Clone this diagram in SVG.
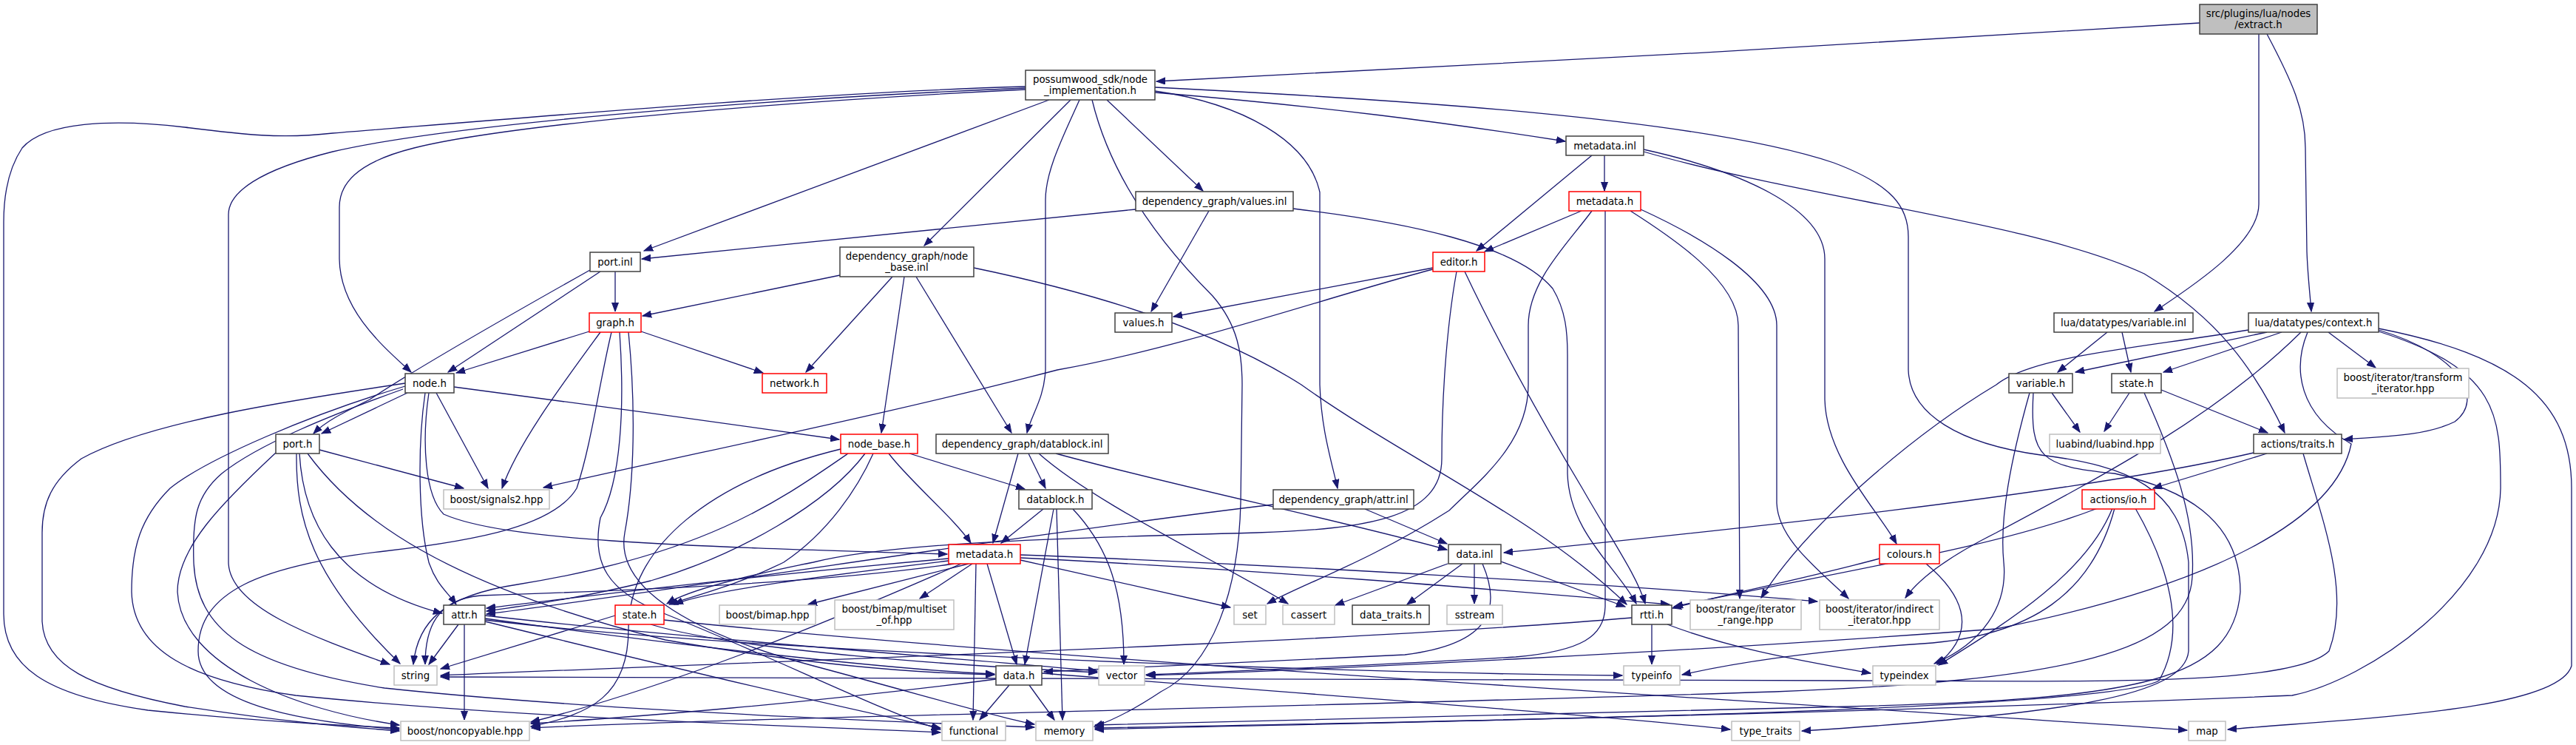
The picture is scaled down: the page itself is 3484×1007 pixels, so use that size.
<svg xmlns="http://www.w3.org/2000/svg" width="3484" height="1007" viewBox="0 0 3484 1007">
<style>
.e path{fill:none;stroke:#191970;stroke-width:1.3;marker-end:url(#a)}
.n rect{fill:#fff;stroke:#404040;stroke-width:1.5}
.n.x rect{stroke:#bfbfbf}
.n.r rect{stroke:#ff0000}
.n.s rect{fill:#bfbfbf}
text{font-family:"DejaVu Sans",sans-serif;font-size:13.33px;text-anchor:middle;fill:#000}
</style>
<defs>
<marker id="a" markerWidth="13" markerHeight="10" refX="12" refY="5" orient="auto" markerUnits="userSpaceOnUse"><path d="M0,0.5 L12,5 L0,9.5 z" fill="#191970" stroke="#191970" stroke-width="1"/></marker>
</defs>
<rect width="3484" height="1007" fill="#fff"/>
<g id="edges" class="e">
<path d="M2975,31 C2600,55 1900,95 1564,110"/>
<path d="M3055,46 L3055,276 C3055,330 2960,390 2914,421"/>
<path d="M3066,46 C3100,110 3118,150 3118,200 L3120,340 C3121,370 3124,395 3126,421"/>
<path d="M1419,135 L871,339"/>
<path d="M1387,121 C1100,135 700,165 560,200 C480,220 459,250 459,280 L459,350 C460,420 520,470 556,503"/>
<path d="M1387,117 C1100,125 700,160 450,180 C380,188 330,182 250,172 C150,160 60,165 30,200 C10,230 5,270 5,300 L5,830 C5,900 60,940 200,960 C350,975 450,980 540,984"/>
<path d="M1387,119 C1000,135 600,170 450,205 C350,230 309,260 309,290 L309,760 C310,820 420,860 527,898"/>
<path d="M1448,135 L1250,332"/>
<path d="M1460,135 C1440,180 1414,230 1414,270 L1414,500 C1412,540 1395,560 1389,585"/>
<path d="M1477,135 C1500,230 1560,320 1640,400 C1675,440 1680,480 1680,520 L1678,680 C1675,800 1640,900 1570,935 C1540,955 1510,972 1480,982"/>
<path d="M1497,135 L1627,258"/>
<path d="M1562,125 C1800,145 1950,165 2117,191"/>
<path d="M1562,123 C1680,140 1770,190 1785,260 L1785,520 C1787,580 1800,620 1809,660"/>
<path d="M1562,118 C1900,135 2300,160 2480,220 C2560,250 2581,280 2581,320 L2581,500 C2583,560 2650,600 2760,615 C2880,630 2950,660 2960,760 L2960,880 C2955,940 2800,965 2437,988"/>
<path d="M2170,210 L2170,258"/>
<path d="M2153,210 L1997,339"/>
<path d="M2223,202 C2350,230 2468,280 2468,350 L2468,540 C2470,620 2540,690 2565,735"/>
<path d="M2223,205 C2450,270 2750,300 2900,370 C3000,430 3050,500 3090,585"/>
<path d="M2139,285 L2008,340"/>
<path d="M2153,285 C2120,330 2067,380 2067,440 L2067,520 C2067,600 2000,650 1960,690 C1850,760 1760,790 1714,816"/>
<path d="M2171,285 L2171,820 C2170,860 2140,880 2050,888 C1850,900 1650,908 1550,912"/>
<path d="M2205,285 C2260,320 2351,380 2351,440 L2353,809"/>
<path d="M2219,283 C2300,320 2403,380 2403,440 L2403,680 C2405,730 2460,770 2500,809"/>
<path d="M1536,283 L868,350"/>
<path d="M1635,285 L1557,421"/>
<path d="M1749,282 C1900,300 2050,330 2100,390 C2118,420 2120,450 2120,480 L2120,640 C2122,720 2190,770 2213,816"/>
<path d="M1938,362 L1587,428"/>
<path d="M1938,364 C1800,400 1600,470 1430,500 C1200,560 950,610 735,659"/>
<path d="M1970,367 C1955,450 1950,550 1950,620 C1950,700 1850,715 1700,720 C1400,728 1200,735 1100,760 C1000,780 930,798 902,816"/>
<path d="M1981,367 C2020,450 2080,560 2140,660 C2180,730 2215,780 2225,816"/>
<path d="M832,367 L832,421"/>
<path d="M812,367 L606,503"/>
<path d="M798,365 C700,420 560,500 500,540 C460,560 440,570 424,586"/>
<path d="M1136,372 L869,427"/>
<path d="M1207,374 L1090,503"/>
<path d="M1223,374 L1192,585"/>
<path d="M1239,374 L1368,585"/>
<path d="M1317,362 C1500,400 1650,450 1760,520 C1900,620 2080,700 2200,817"/>
<path d="M797,448 L617,504"/>
<path d="M867,448 L1032,504"/>
<path d="M812,449 C760,520 700,600 679,660"/>
<path d="M827,449 C810,520 800,600 780,660 C750,710 650,730 520,745 C350,765 268,800 268,880 C268,950 400,975 540,986"/>
<path d="M838,449 C845,550 840,650 812,700 C800,760 820,800 900,830 C1050,890 1200,965 1272,986"/>
<path d="M850,449 C860,550 858,650 845,720 C830,800 950,860 1100,900 C1250,940 1350,970 1399,979"/>
<path d="M551,531 L435,586"/>
<path d="M575,531 C565,600 565,700 580,760 C590,790 605,800 617,817"/>
<path d="M590,531 L660,660"/>
<path d="M614,523 C750,540 1000,575 1135,594"/>
<path d="M580,531 C570,600 575,670 600,695 C680,730 900,738 1281,749"/>
<path d="M548,518 C400,540 200,570 110,620 C70,650 57,680 57,720 L57,840 C60,900 120,930 250,955 C380,975 460,982 540,988"/>
<path d="M548,522 C420,560 280,620 230,660 C190,700 178,740 178,800 C180,880 260,920 400,940 C700,970 1000,978 1272,990"/>
<path d="M545,526 C450,560 350,600 300,640 C265,670 260,700 262,760 C266,850 330,900 520,930 C800,960 1200,975 1399,983"/>
<path d="M401,613 C400,700 420,780 541,897"/>
<path d="M405,613 C410,700 450,790 598,829"/>
<path d="M432,608 L627,660"/>
<path d="M373,612 C300,680 240,740 240,800 C245,900 400,960 540,980"/>
<path d="M416,613 C480,700 600,790 900,865 C1100,900 1250,910 1345,912"/>
<path d="M1202,613 C1230,650 1290,700 1313,734"/>
<path d="M1230,613 L1386,661"/>
<path d="M1181,613 C1160,660 1120,720 1060,760 C1000,790 940,805 905,817"/>
<path d="M1170,613 C1120,680 1000,750 880,785 C780,810 700,820 658,826"/>
<path d="M1147,613 C1050,680 950,750 700,790 C600,805 565,840 559,898"/>
<path d="M1137,607 C960,650 850,740 850,850 C850,940 800,965 718,982"/>
<path d="M1377,613 L1343,734"/>
<path d="M1391,613 L1414,660"/>
<path d="M1405,613 C1480,680 1650,760 1742,816"/>
<path d="M1428,613 C1600,660 1800,700 1957,743"/>
<path d="M1411,688 L1354,734"/>
<path d="M1425,688 L1386,898"/>
<path d="M1429,688 L1437,973"/>
<path d="M1451,688 C1500,740 1520,800 1520,898"/>
<path d="M1846,688 L1957,735"/>
<path d="M1722,682 C1400,720 900,800 658,830"/>
<path d="M1283,755 C1000,780 800,805 658,822"/>
<path d="M1283,758 C1100,780 950,800 912,817"/>
<path d="M1290,762 C1100,790 800,800 650,805 C590,810 575,850 575,898"/>
<path d="M1300,762 C1100,850 900,930 718,976"/>
<path d="M1320,762 L1316,973"/>
<path d="M1335,762 L1375,898"/>
<path d="M1310,762 L1093,817"/>
<path d="M1315,762 L1244,809"/>
<path d="M1380,757 L1664,821"/>
<path d="M1380,750 C1700,762 2200,790 2458,813"/>
<path d="M1380,754 C1700,770 2000,795 2258,817"/>
<path d="M1958,762 L1806,818"/>
<path d="M1978,762 L1903,817"/>
<path d="M1994,762 L1994,816"/>
<path d="M2030,759 L2198,820"/>
<path d="M2005,762 C2030,820 2020,870 1900,885 C1700,895 1500,905 1412,908"/>
<path d="M2234,844 L2234,898"/>
<path d="M2255,844 C2350,880 2450,895 2530,910"/>
<path d="M2207,835 C1800,870 1000,895 596,913"/>
<path d="M620,844 L580,898"/>
<path d="M628,844 L628,973"/>
<path d="M656,836 C900,870 1200,905 1345,911"/>
<path d="M656,840 C900,900 1150,960 1272,984"/>
<path d="M656,832 C900,860 1300,890 1484,907"/>
<path d="M656,838 C1000,880 1800,910 2194,913"/>
<path d="M832,832 L596,904"/>
<path d="M880,844 C1000,880 1300,900 1484,909"/>
<path d="M898,838 C1500,900 2600,960 2958,987"/>
<path d="M1365,926 L1325,973"/>
<path d="M1392,926 L1426,973"/>
<path d="M1347,918 C1100,950 850,970 718,978"/>
<path d="M1409,910 C1800,940 2200,970 2340,986"/>
<path d="M2850,449 L2783,503"/>
<path d="M2870,449 L2882,503"/>
<path d="M3066,449 L2807,503"/>
<path d="M3086,449 L2926,503"/>
<path d="M3149,449 L3213,497"/>
<path d="M3217,446 C3330,480 3360,540 3320,570 C3280,590 3220,590 3170,594"/>
<path d="M3041,446 C2900,470 2750,480 2700,520 C2600,580 2450,700 2382,808"/>
<path d="M3112,449 C3000,560 2850,640 2700,720 C2620,760 2590,790 2577,808"/>
<path d="M3217,444 C3400,480 3478,540 3478,660 L3478,900 C3460,960 3200,970 3013,986"/>
<path d="M3121,449 C3100,500 3110,560 3180,600 C3160,700 3000,790 2700,850 C2300,880 1800,905 1551,913"/>
<path d="M3217,448 C3380,500 3382,560 3382,660 C3380,800 3200,920 3100,940 C2500,965 1800,978 1481,986"/>
<path d="M2775,531 L2813,584"/>
<path d="M2745,531 C2720,620 2704,700 2710,760 C2716,820 2680,870 2616,897"/>
<path d="M2750,531 C2745,620 2760,630 2860,640 C2950,660 3030,700 3030,800 C3020,920 2900,945 2500,955 C2000,965 1600,975 1481,980"/>
<path d="M2880,531 L2846,583"/>
<path d="M2923,527 L3067,585"/>
<path d="M2900,531 C2940,620 2970,700 2965,780 C2960,880 2800,920 2400,935 C1800,955 1000,970 719,984"/>
<path d="M3066,613 L2912,660"/>
<path d="M3048,612 C2800,670 2300,720 2034,747"/>
<path d="M3115,613 C3140,700 3180,800 3150,880 C3100,930 2800,920 2500,920 C1500,915 900,912 596,915"/>
<path d="M2837,687 C2700,740 2500,770 2264,820"/>
<path d="M2857,687 C2820,780 2700,850 2622,899"/>
<path d="M2860,687 C2830,800 2750,860 2600,870 C2450,880 2350,895 2275,912"/>
<path d="M2888,687 C2930,760 2960,850 2920,920 C2850,960 2000,975 1481,984"/>
<path d="M2605,762 C2650,800 2680,850 2620,898"/>
<path d="M2542,755 C2450,780 2350,800 2262,822"/>
</g>
<g id="n_extract" class="n s"><rect x="2975" y="6" width="159" height="40"/><text x="3054.5" y="23">src/plugins/lua/nodes</text><text x="3054.5" y="38">/extract.h</text></g>
<g id="n_nodeimpl" class="n"><rect x="1387" y="95" width="175" height="40"/><text x="1474.5" y="112">possumwood_sdk/node</text><text x="1474.5" y="127">_implementation.h</text></g>
<g id="n_metadata_inl" class="n"><rect x="2118" y="184" width="105" height="26"/><text x="2170.5" y="202">metadata.inl</text></g>
<g id="n_values_inl" class="n"><rect x="1536" y="259" width="213" height="26"/><text x="1642.5" y="277">dependency_graph/values.inl</text></g>
<g id="n_metadata_sdk" class="n r"><rect x="2122" y="259" width="97" height="26"/><text x="2170.5" y="277">metadata.h</text></g>
<g id="n_port_inl" class="n"><rect x="798" y="341" width="68" height="26"/><text x="832" y="359">port.inl</text></g>
<g id="n_node_base_inl" class="n"><rect x="1136" y="334" width="181" height="40"/><text x="1226.5" y="351">dependency_graph/node</text><text x="1226.5" y="366">_base.inl</text></g>
<g id="n_editor" class="n r"><rect x="1938" y="341" width="70" height="26"/><text x="1973" y="359">editor.h</text></g>
<g id="n_graph" class="n r"><rect x="797" y="423" width="70" height="26"/><text x="832" y="441">graph.h</text></g>
<g id="n_values_h" class="n"><rect x="1508" y="423" width="77" height="26"/><text x="1546.5" y="441">values.h</text></g>
<g id="n_variable_inl" class="n"><rect x="2778" y="423" width="188" height="26"/><text x="2872" y="441">lua/datatypes/variable.inl</text></g>
<g id="n_context" class="n"><rect x="3041" y="423" width="176" height="26"/><text x="3129" y="441">lua/datatypes/context.h</text></g>
<g id="n_node" class="n"><rect x="548" y="505" width="66" height="26"/><text x="581" y="523">node.h</text></g>
<g id="n_network" class="n r"><rect x="1031" y="505" width="87" height="26"/><text x="1074.5" y="523">network.h</text></g>
<g id="n_variable_h" class="n"><rect x="2717" y="505" width="86" height="26"/><text x="2760" y="523">variable.h</text></g>
<g id="n_lstate" class="n"><rect x="2856" y="505" width="67" height="26"/><text x="2889.5" y="523">state.h</text></g>
<g id="n_transform" class="n x"><rect x="3161" y="498" width="178" height="40"/><text x="3250" y="515">boost/iterator/transform</text><text x="3250" y="530">_iterator.hpp</text></g>
<g id="n_port_h" class="n"><rect x="373" y="587" width="59" height="26"/><text x="402.5" y="605">port.h</text></g>
<g id="n_node_base_h" class="n r"><rect x="1137" y="587" width="104" height="26"/><text x="1189" y="605">node_base.h</text></g>
<g id="n_datablock_inl" class="n"><rect x="1266" y="587" width="233" height="26"/><text x="1382.5" y="605">dependency_graph/datablock.inl</text></g>
<g id="n_luabind" class="n x"><rect x="2772" y="587" width="150" height="26"/><text x="2847" y="605">luabind/luabind.hpp</text></g>
<g id="n_traits" class="n"><rect x="3048" y="587" width="119" height="26"/><text x="3107.5" y="605">actions/traits.h</text></g>
<g id="n_signals2" class="n x"><rect x="600" y="662" width="143" height="26"/><text x="671.5" y="680">boost/signals2.hpp</text></g>
<g id="n_datablock_h" class="n"><rect x="1378" y="662" width="99" height="26"/><text x="1427.5" y="680">datablock.h</text></g>
<g id="n_attr_inl" class="n"><rect x="1722" y="662" width="190" height="26"/><text x="1817" y="680">dependency_graph/attr.inl</text></g>
<g id="n_io" class="n r"><rect x="2816" y="662" width="98" height="26"/><text x="2865" y="680">actions/io.h</text></g>
<g id="n_metadata_dg" class="n r"><rect x="1283" y="736" width="97" height="26"/><text x="1331.5" y="754">metadata.h</text></g>
<g id="n_data_inl" class="n"><rect x="1959" y="736" width="71" height="26"/><text x="1994.5" y="754">data.inl</text></g>
<g id="n_colours" class="n r"><rect x="2542" y="736" width="81" height="26"/><text x="2582.5" y="754">colours.h</text></g>
<g id="n_attr_h" class="n"><rect x="600" y="818" width="56" height="26"/><text x="628" y="836">attr.h</text></g>
<g id="n_dstate" class="n r"><rect x="832" y="818" width="66" height="26"/><text x="865" y="836">state.h</text></g>
<g id="n_bimap" class="n x"><rect x="973" y="818" width="130" height="26"/><text x="1038" y="836">boost/bimap.hpp</text></g>
<g id="n_multiset" class="n x"><rect x="1129" y="811" width="161" height="40"/><text x="1209.5" y="828">boost/bimap/multiset</text><text x="1209.5" y="843">_of.hpp</text></g>
<g id="n_set" class="n x"><rect x="1669" y="818" width="43" height="26"/><text x="1690.5" y="836">set</text></g>
<g id="n_cassert" class="n x"><rect x="1735" y="818" width="70" height="26"/><text x="1770" y="836">cassert</text></g>
<g id="n_data_traits" class="n"><rect x="1829" y="818" width="104" height="26"/><text x="1881" y="836">data_traits.h</text></g>
<g id="n_sstream" class="n x"><rect x="1957" y="818" width="75" height="26"/><text x="1994.5" y="836">sstream</text></g>
<g id="n_rtti" class="n"><rect x="2207" y="818" width="54" height="26"/><text x="2234" y="836">rtti.h</text></g>
<g id="n_iter_range" class="n x"><rect x="2286" y="811" width="150" height="40"/><text x="2361" y="828">boost/range/iterator</text><text x="2361" y="843">_range.hpp</text></g>
<g id="n_indirect" class="n x"><rect x="2461" y="811" width="162" height="40"/><text x="2542" y="828">boost/iterator/indirect</text><text x="2542" y="843">_iterator.hpp</text></g>
<g id="n_string" class="n x"><rect x="533" y="900" width="58" height="26"/><text x="562" y="918">string</text></g>
<g id="n_data_h" class="n"><rect x="1347" y="900" width="62" height="26"/><text x="1378" y="918">data.h</text></g>
<g id="n_vector" class="n x"><rect x="1486" y="900" width="62" height="26"/><text x="1517" y="918">vector</text></g>
<g id="n_typeinfo" class="n x"><rect x="2196" y="900" width="76" height="26"/><text x="2234" y="918">typeinfo</text></g>
<g id="n_typeindex" class="n x"><rect x="2533" y="900" width="85" height="26"/><text x="2575.5" y="918">typeindex</text></g>
<g id="n_noncopyable" class="n x"><rect x="542" y="975" width="174" height="26"/><text x="629" y="993">boost/noncopyable.hpp</text></g>
<g id="n_functional" class="n x"><rect x="1274" y="975" width="86" height="26"/><text x="1317" y="993">functional</text></g>
<g id="n_memory" class="n x"><rect x="1401" y="975" width="77" height="26"/><text x="1439.5" y="993">memory</text></g>
<g id="n_type_traits" class="n x"><rect x="2342" y="975" width="92" height="26"/><text x="2388" y="993">type_traits</text></g>
<g id="n_map" class="n x"><rect x="2960" y="975" width="50" height="26"/><text x="2985" y="993">map</text></g>
</svg>
